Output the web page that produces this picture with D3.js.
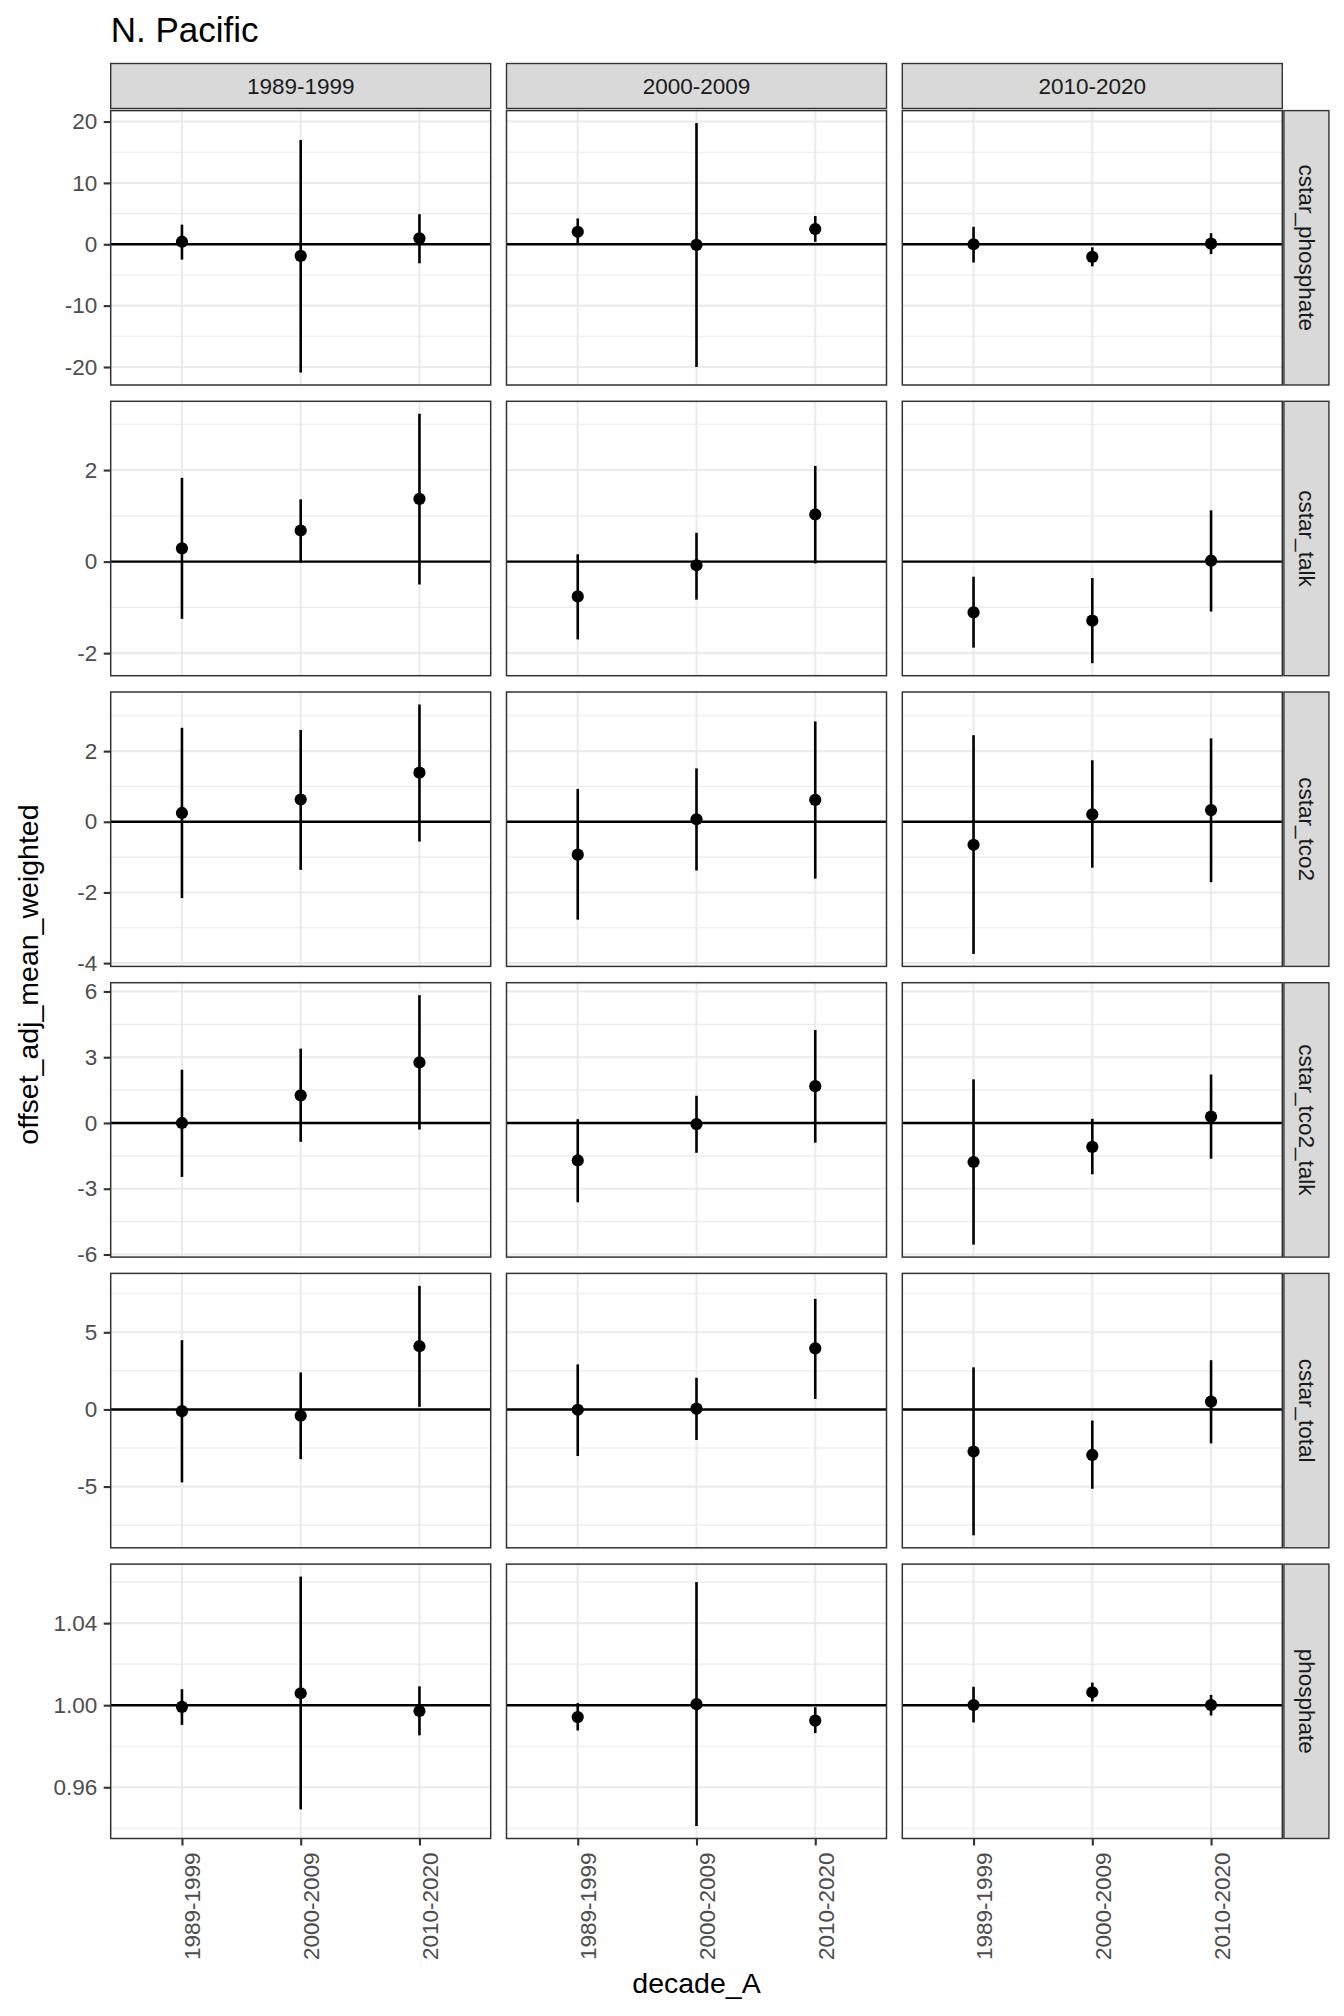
<!DOCTYPE html>
<html>
<head>
<meta charset="utf-8">
<script src="https://cdn.jsdelivr.net/npm/d3@7"></script>
<style>
  html, body { margin: 0; padding: 0; background: #ffffff; }
  svg { display: block; }
  text { font-family: "Liberation Sans", Arial, Helvetica, sans-serif; }
</style>
</head>
<body>
<div id="chart"></div>
<script>
// ---------------- DATA ----------------
const chartTitle = "N. Pacific";
const xTitle = "decade_A";
const yTitle = "offset_adj_mean_weighted";

// x categories (decade_A) and column facets (decade_B)
const decades = ["1989-1999", "2000-2009", "2010-2020"];
// row facets
const variables = ["cstar_phosphate", "cstar_talk", "cstar_tco2", "cstar_tco2_talk", "cstar_total", "phosphate"];

// reference lines (geom_hline) per row
const refLines = [0, 0, 0, 0, 0, 1];

// values: [facet column][decade_A]
const cstarPhosphateMean  = [[0.42, -1.9, 0.97], [2.04, -0.1, 2.48], [0.0, -2.06, 0.1]];
const cstarPhosphateLower = [[-2.5, -20.9, -3.1], [-0.05, -20.0, 0.4], [-2.98, -3.6, -1.6]];
const cstarPhosphateUpper = [[3.2, 17.0, 4.9], [4.2, 19.75, 4.6], [2.85, -0.5, 1.8]];

const cstarTalkMean  = [[0.29, 0.68, 1.37], [-0.76, -0.08, 1.03], [-1.11, -1.29, 0.02]];
const cstarTalkLower = [[-1.25, -0.02, -0.5], [-1.70, -0.83, -0.04], [-1.88, -2.22, -1.09]];
const cstarTalkUpper = [[1.83, 1.36, 3.23], [0.16, 0.63, 2.09], [-0.33, -0.36, 1.12]];

const cstarTco2Mean  = [[0.25, 0.63, 1.39], [-0.93, 0.07, 0.62], [-0.65, 0.21, 0.33]];
const cstarTco2Lower = [[-2.16, -1.36, -0.56], [-2.77, -1.38, -1.61], [-3.74, -1.30, -1.71]];
const cstarTco2Upper = [[2.66, 2.60, 3.32], [0.93, 1.51, 2.84], [2.45, 1.74, 2.36]];

const cstarTco2TalkMean  = [[0.0, 1.26, 2.76], [-1.71, -0.05, 1.68], [-1.78, -1.09, 0.29]];
const cstarTco2TalkLower = [[-2.46, -0.86, -0.30], [-3.62, -1.36, -0.90], [-5.55, -2.34, -1.63]];
const cstarTco2TalkUpper = [[2.43, 3.39, 5.83], [0.17, 1.24, 4.24], [1.99, 0.19, 2.21]];

const cstarTotalMean  = [[-0.11, -0.41, 4.10], [-0.02, 0.05, 3.96], [-2.73, -2.95, 0.51]];
const cstarTotalLower = [[-4.73, -3.22, 0.17], [-3.02, -1.98, 0.68], [-8.16, -5.14, -2.20]];
const cstarTotalUpper = [[4.49, 2.40, 8.01], [2.92, 2.05, 7.17], [2.73, -0.72, 3.19]];

const phosphateMean  = [[0.9992, 1.0058, 0.9972], [0.9942, 1.0005, 0.9925], [1.0001, 1.0063, 1.0001]];
const phosphateLower = [[0.9904, 0.9492, 0.9853], [0.9877, 0.9411, 0.9864], [0.9916, 1.0018, 0.9950]];
const phosphateUpper = [[1.0078, 1.0627, 1.0092], [1.0010, 1.0600, 0.9990], [1.0090, 1.0110, 1.0050]];

// y tick labels per row
const yTicks = [
  [-20, -10, 0, 10, 20],
  [-2, 0, 2],
  [-4, -2, 0, 2],
  [-6, -3, 0, 3, 6],
  [-5, 0, 5],
  [0.96, 1.00, 1.04]
];
const yTickFormats = ["d", "d", "d", "d", "d", ".2f"];

const means  = [cstarPhosphateMean, cstarTalkMean, cstarTco2Mean, cstarTco2TalkMean, cstarTotalMean, phosphateMean];
const lowers = [cstarPhosphateLower, cstarTalkLower, cstarTco2Lower, cstarTco2TalkLower, cstarTotalLower, phosphateLower];
const uppers = [cstarPhosphateUpper, cstarTalkUpper, cstarTco2Upper, cstarTco2TalkUpper, cstarTotalUpper, phosphateUpper];

// ---------------- LAYOUT ----------------
const W = 1344, H = 2016;
const colLeft0 = 110.7, colPitch = 395.8, panelW = 380;
const rowTop0 = 110.6, rowPitch = 290.7, panelH = 274.4;
const stripTopY = 63.5, stripH = 45;
const stripRightX = 1283.9, stripW = 45;

const gridCol = "#ebebeb", borderCol = "#333333", stripFill = "#d9d9d9";
const tickCol = "#333333", tickTextCol = "#4d4d4d";
const fsTick = 22.5, fsStrip = 22.5, fsAxisTitle = 28.5, fsTitle = 35;
const fontFam = "'Liberation Sans', Arial, Helvetica, sans-serif";

const svg = d3.select("#chart").append("svg")
  .attr("width", W).attr("height", H)
  .attr("viewBox", `0 0 ${W} ${H}`);
svg.append("rect").attr("width", W).attr("height", H).attr("fill", "#ffffff");

// Title
svg.append("text")
  .attr("x", colLeft0).attr("y", 41.5)
  .attr("font-size", fsTitle).attr("fill", "#000")
  .text(chartTitle);

// Top strips
decades.forEach((d, c) => {
  const x0 = colLeft0 + c * colPitch;
  svg.append("rect")
    .attr("x", x0).attr("y", stripTopY).attr("width", panelW).attr("height", stripH)
    .attr("fill", stripFill).attr("stroke", borderCol).attr("stroke-width", 1.4);
  svg.append("text")
    .attr("x", x0 + panelW / 2).attr("y", stripTopY + stripH / 2)
    .attr("dy", "0.35em").attr("text-anchor", "middle")
    .attr("font-size", fsStrip).attr("fill", "#1a1a1a")
    .text(d);
});

function minorBreaks(ticks, domain) {
  const step = ticks[1] - ticks[0];
  const ext = [ticks[0] - step, ...ticks, ticks[ticks.length - 1] + step];
  const out = [];
  for (let i = 0; i < ext.length - 1; i++) {
    const m = (ext[i] + ext[i + 1]) / 2;
    if (m >= domain[0] && m <= domain[1]) out.push(m);
  }
  return out;
}

function makeFormat(spec) {
  const f = d3.format(spec);
  return v => f(v).replace("\u2212", "-");
}

variables.forEach((v, r) => {
  const top = rowTop0 + r * rowPitch;
  const bottom = top + panelH;

  // y domain trained on data + reference line, 5% expansion
  const all = [refLines[r]];
  lowers[r].forEach(a => a.forEach(x => all.push(x)));
  uppers[r].forEach(a => a.forEach(x => all.push(x)));
  const lo = d3.min(all), hi = d3.max(all), R = hi - lo;
  const domain = [lo - 0.05 * R, hi + 0.05 * R];
  const y = d3.scaleLinear().domain(domain).range([bottom, top]);
  const minors = minorBreaks(yTicks[r], domain);

  decades.forEach((facet, c) => {
    const left = colLeft0 + c * colPitch;
    const right = left + panelW;
    const x = d3.scalePoint().domain(decades).range([left, right]).padding(0.6);
    const g = svg.append("g");

    g.append("rect").attr("x", left).attr("y", top).attr("width", panelW).attr("height", panelH).attr("fill", "#fff");

    // minor grid
    g.selectAll(".minor").data(minors).enter().append("line")
      .attr("x1", left).attr("x2", right)
      .attr("y1", d => y(d)).attr("y2", d => y(d))
      .attr("stroke", gridCol).attr("stroke-width", 1.1);
    // major grid horizontal
    g.selectAll(".majorY").data(yTicks[r]).enter().append("line")
      .attr("x1", left).attr("x2", right)
      .attr("y1", d => y(d)).attr("y2", d => y(d))
      .attr("stroke", gridCol).attr("stroke-width", 2.1);
    // major grid vertical
    g.selectAll(".majorX").data(decades).enter().append("line")
      .attr("x1", d => x(d)).attr("x2", d => x(d))
      .attr("y1", top).attr("y2", bottom)
      .attr("stroke", gridCol).attr("stroke-width", 2.1);

    // reference line
    g.append("line")
      .attr("x1", left).attr("x2", right)
      .attr("y1", y(refLines[r])).attr("y2", y(refLines[r]))
      .attr("stroke", "#000").attr("stroke-width", 2.4);

    // pointranges
    const pts = decades.map((d, i) => ({
      cat: d, m: means[r][c][i], lo: lowers[r][c][i], hi: uppers[r][c][i]
    }));
    g.selectAll(".rng").data(pts).enter().append("line")
      .attr("x1", d => x(d.cat)).attr("x2", d => x(d.cat))
      .attr("y1", d => y(d.lo)).attr("y2", d => y(d.hi))
      .attr("stroke", "#000").attr("stroke-width", 2.6);
    g.selectAll(".pt").data(pts).enter().append("circle")
      .attr("cx", d => x(d.cat)).attr("cy", d => y(d.m)).attr("r", 6.1)
      .attr("fill", "#000");

    // panel border
    g.append("rect").attr("x", left).attr("y", top).attr("width", panelW).attr("height", panelH)
      .attr("fill", "none").attr("stroke", borderCol).attr("stroke-width", 1.5);

    // y axis on first column
    if (c === 0) {
      const ax = svg.append("g").attr("transform", `translate(${left},0)`)
        .call(d3.axisLeft(y).tickValues(yTicks[r]).tickFormat(makeFormat(yTickFormats[r])).tickSize(7).tickPadding(6.5));
      ax.select(".domain").remove();
      ax.selectAll(".tick line").attr("stroke", tickCol).attr("stroke-width", 2.1);
      ax.selectAll(".tick text").attr("fill", tickTextCol).attr("font-size", fsTick)
        .attr("font-family", fontFam);
    }
    // x axis on last row
    if (r === variables.length - 1) {
      const ax = svg.append("g").attr("transform", `translate(0,${bottom})`)
        .call(d3.axisBottom(x).tickSize(7));
      ax.select(".domain").remove();
      ax.selectAll(".tick line").attr("stroke", tickCol).attr("stroke-width", 2.1);
      ax.selectAll(".tick text")
        .attr("transform", "rotate(-90)")
        .attr("x", -14).attr("y", 18).attr("dy", 0)
        .attr("text-anchor", "end")
        .attr("fill", tickTextCol).attr("font-size", fsTick)
        .attr("font-family", fontFam);
    }
  });

  // right strip
  svg.append("rect")
    .attr("x", stripRightX).attr("y", top).attr("width", stripW).attr("height", panelH)
    .attr("fill", stripFill).attr("stroke", borderCol).attr("stroke-width", 1.4);
  svg.append("text")
    .attr("transform", `translate(${stripRightX + stripW / 2},${top + panelH / 2}) rotate(90)`)
    .attr("dy", "0.35em").attr("text-anchor", "middle")
    .attr("font-size", fsStrip).attr("fill", "#1a1a1a")
    .text(v);
});

// axis titles
svg.append("text")
  .attr("x", colLeft0 + (2 * colPitch + panelW) / 2).attr("y", 1993)
  .attr("text-anchor", "middle").attr("font-size", fsAxisTitle).attr("fill", "#000")
  .text(xTitle);
svg.append("text")
  .attr("transform", `translate(38,${(rowTop0 + 5 * rowPitch + panelH + rowTop0) / 2}) rotate(-90)`)
  .attr("text-anchor", "middle").attr("font-size", fsAxisTitle).attr("fill", "#000")
  .text(yTitle);
</script>
</body>
</html>
